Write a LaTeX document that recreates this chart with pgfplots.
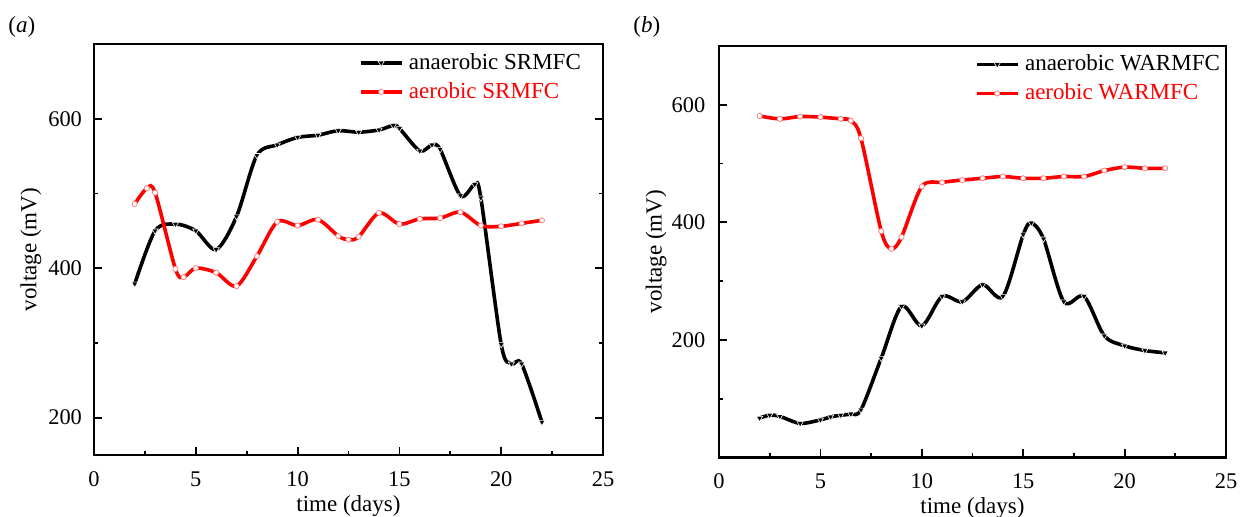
\documentclass[border=0pt]{standalone}
\usepackage{fontspec}
\setmainfont{Liberation Serif}
\usepackage{pgfplots}
\pgfplotsset{compat=1.18}

\pgfplotstableread{
x y
2 379
3 450
4 459
5 450
6 425
7 469
8 551
9 565
10 575
11 578
12 584
13 582
14 585
14.7 591
15 587
16 557
16.6 565
17 559
18 497
18.7 512
19 494
20 298
20.5 272
21 272
22 194
}\anaSR

\pgfplotstableread{
x y
2 486
2.6 507
3 501
4 399
4.4 388
5 400
6 394
7 376
8 416
9 462
10 457
11 465
12 443
12.5 438
13 442
14 474
15 459
16 466
17 467
18 475
19 457
20 456
21 460
22 464
}\aeSR

\pgfplotstableread{
x y
2 67
2.5 72
3 70
4 58
5 64
5.5 69
6 72
6.5 74
7 81
8 169
9 257
10 224
11 274
12 265
13 294
14 274
15 379
15.4 399
16 372
17 265
18 274
19 207
20 190
21 182
22 178
}\anaWA

\pgfplotstableread{
x y
2 581
3 576
4 580
5 579
6 576
6.5 573
7 543
8 385
8.5 355
9 375
10 461
11 468
12 472
13 475
14 478
15 475
16 475
17 478
18 478
19 488
20 494
21 492
22 492
}\aeWA

\pgfplotsset{
  panel/.style={
    scale only axis,
    anchor=south west,
    xmin=0, xmax=25,
    xtick={0,5,...,25},
    minor xtick={2.5,7.5,...,22.5},
    ytick={200,400,600},
    xtick pos=left,
    tick align=inside,
    major tick length=4pt,
    minor tick length=2pt,
    every tick/.style={black, line width=0.9pt},
    axis line style={line width=1.3pt},
    /pgf/number format/assume math mode=true,
    tick label style={font=\fontsize{11.2}{13}\selectfont},
    label style={font=\fontsize{11.5}{13}\selectfont},
    xticklabel style={anchor=base, yshift=-15.75pt},
    xlabel style={at={(axis description cs:0.5,-0.1363)}, anchor=base},
    ylabel style={at={(axis description cs:-0.1238,0.5)}, anchor=center},
    xlabel={time (days)},
    ylabel={voltage (mV)},
    legend style={draw=none, fill=none, inner sep=0pt, row sep=3pt,
      column sep=2pt, nodes={inner sep=1pt},
      font=\fontsize{11.5}{13}\selectfont},
    legend cell align=left,
    legend image code/.code={%
      \draw[#1, mark repeat=2, mark phase=2] plot coordinates {(0pt,0pt) (10pt,0pt) (20pt,0pt)};},
  },
  blk/.style={black, line width=1.8pt, smooth, mark=triangle*, mark size=1.8pt,
    mark options={rotate=180, fill=black, draw=white, line width=0.3pt, solid}},
  rd/.style={red, line width=1.8pt, smooth, mark=*, mark size=1.3pt,
    mark options={fill=white, draw=red!50, line width=0.4pt, solid}},
}

\begin{document}
\begin{tikzpicture}
\useasboundingbox (0,0) rectangle (623.5pt,258.5pt);

\node[anchor=base west, inner sep=0pt, font=\fontsize{11.5}{13}\selectfont] at (4pt,242pt) {(\textit{a})};
\node[anchor=base west, inner sep=0pt, font=\fontsize{11.5}{13}\selectfont] at (316.5pt,242pt) {(\textit{b})};

\begin{axis}[panel,
  at={(47pt,31pt)}, width=254.5pt, height=205.5pt,
  ymin=150, ymax=700,
  minor ytick={300,500},
  ytick pos=both,
  yticklabel style={xshift=-2.5pt},
  legend style={at={(axis description cs:0.5206,0.983)}, anchor=north west},
]
\addplot[blk] table[x=x,y=y] {\anaSR};
\addlegendentry{anaerobic SRMFC}
\addplot[rd] table[x=x,y=y] {\aeSR};
\addlegendentry{\textcolor{red}{aerobic SRMFC}}
\end{axis}

\begin{axis}[panel,
  at={(359.5pt,29.75pt)}, width=253.5pt, height=205.75pt,
  ymin=0, ymax=700,
  minor ytick={100,300,500},
  ytick pos=left,
  yticklabel style={xshift=-3.3pt},
  legend style={at={(axis description cs:0.505,0.984)}, anchor=north west},
]
\addplot[blk] table[x=x,y=y] {\anaWA};
\addlegendentry{anaerobic WARMFC}
\addplot[rd] table[x=x,y=y] {\aeWA};
\addlegendentry{\textcolor{red}{aerobic WARMFC}}
\end{axis}
\end{tikzpicture}
\end{document}
